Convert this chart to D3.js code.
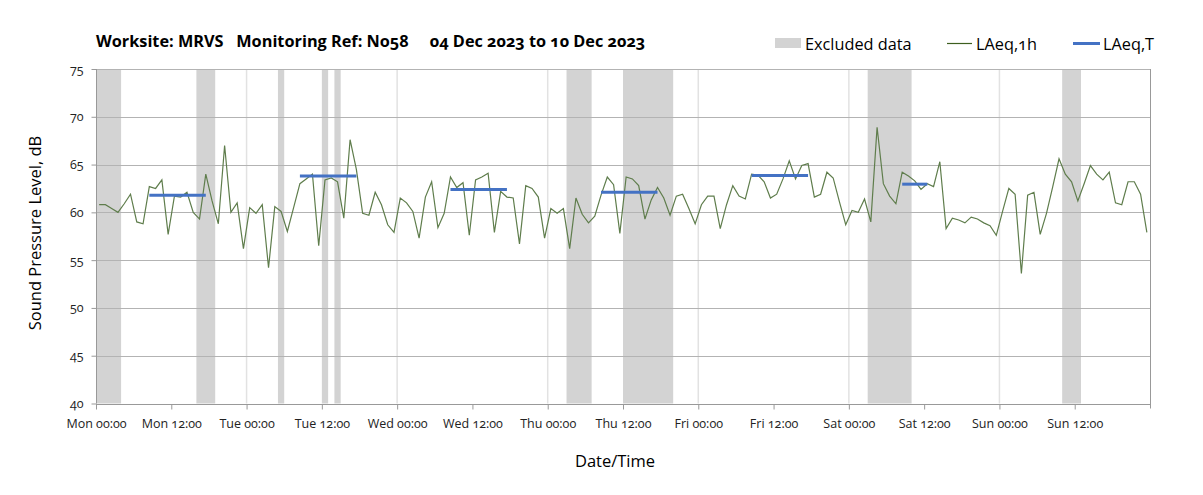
<!DOCTYPE html>
<html>

<head>
  <script src="https://d3js.org/d3.v7.min.js"></script>
  <style>
    body { margin: 0; background: #fff; }
    text { font-family: "Open Sans", Lato, sans-serif; font-variant-numeric: oldstyle-nums; fill: #000; }
  </style>
</head>

<body>
  <svg id="noise" height="495" width="1203"></svg>
  <script>
    // hourly LAeq,1h values, one per hour starting Mon 00:00
    const laeq1h = [
      60.8, 60.8, 60.4, 60.0, 60.9, 61.9, 59.0, 58.8, 62.7, 62.5, 63.4, 57.7,
      61.7, 61.6, 62.1, 60.0, 59.3, 64.0, 61.2, 58.8, 67.0, 60.0, 61.0, 56.2,
      60.5, 59.9, 60.8, 54.2, 60.6, 60.1, 58.0, 60.5, 63.0, 63.5, 64.0, 56.5,
      63.4, 63.6, 63.2, 59.4, 67.6, 64.5, 59.9, 59.7, 62.1, 60.8, 58.7, 57.9,
      61.5, 61.0, 60.1, 57.3, 61.6, 63.2, 58.4, 59.9, 63.7, 62.6, 63.1, 57.6,
      63.4, 63.7, 64.1, 57.9, 62.2, 61.6, 61.5, 56.7, 62.8, 62.5, 61.6, 57.3,
      60.4, 59.9, 60.4, 56.2, 61.5, 59.8, 58.9, 59.6, 61.8, 63.7, 62.9, 57.8,
      63.7, 63.5, 62.8, 59.3, 61.3, 62.6, 61.5, 59.7, 61.7, 61.9, 60.4, 58.8,
      60.8, 61.7, 61.7, 58.3, 60.8, 62.8, 61.7, 61.4, 64.0, 63.9, 63.2, 61.5,
      61.9, 63.5, 65.4, 63.5, 64.9, 65.1, 61.6, 61.9, 64.2, 63.6, 61.1, 58.7,
      60.2, 60.0, 61.4, 59.0, 68.9, 63.0, 61.7, 60.9, 64.2, 63.8, 63.3, 62.4,
      63.0, 62.7, 65.3, 58.3, 59.4, 59.2, 58.9, 59.5, 59.3, 58.9, 58.6, 57.6,
      60.1, 62.5, 61.9, 53.6, 61.8, 62.1, 57.7, 59.9, 62.7, 65.6, 64.0, 63.2,
      61.2, 63.0, 64.9, 64.0, 63.4, 64.2, 61.0, 60.8, 63.2, 63.2, 61.9, 57.9
    ];
    // excluded periods, [start hour, end hour]
    const excluded = [[0, 4], [16, 19], [29, 30], [36, 37], [38, 39], [75, 79], [84, 92], [123, 130], [154, 157]];
    // LAeq,T over working periods: first hour, last hour, level
    const laeqT = [[8, 17, 61.8], [32, 41, 63.8], [56, 65, 62.4], [80, 89, 62.1], [104, 113, 63.85], [128, 132, 62.95]];
    const days = ["Mon", "Tue", "Wed", "Thu", "Fri", "Sat", "Sun"];
    const yTicks = [40, 45, 50, 55, 60, 65, 70, 75];

    let svg = d3.select('svg#noise');
    const margins = { top: 69, left: 96, right: 53, bottom: 91.5 };
    const width = +svg.attr('width');
    const height = +svg.attr('height');
    const xScale = d3.scaleLinear().domain([0, 168]).range([margins.left, width - margins.right]);
    const yScale = d3.scaleLinear().domain([40, 75]).range([height - margins.bottom, margins.top]);

    // excluded bands
    svg.append('g').selectAll('rect').data(excluded)
      .join('rect')
      .attr('x', d => xScale(d[0]))
      .attr('width', d => xScale(d[1]) - xScale(d[0]))
      .attr('y', yScale(75))
      .attr('height', yScale(40) - yScale(75))
      .attr('fill', '#d3d3d3');

    // vertical gridlines at midnight
    svg.append('g').selectAll('line').data(d3.range(24, 168, 24))
      .join('line')
      .attr('x1', d => xScale(d)).attr('x2', d => xScale(d))
      .attr('y1', yScale(75)).attr('y2', yScale(40))
      .attr('stroke', '#e2e2e2').attr('stroke-width', 1.5);

    // horizontal gridlines
    svg.append('g').selectAll('line').data(yTicks.slice(1))
      .join('line')
      .attr('x1', xScale(0)).attr('x2', xScale(168))
      .attr('y1', d => Math.round(yScale(d)) + 0.5).attr('y2', d => Math.round(yScale(d)) + 0.5)
      .attr('stroke', '#b3b3b3');

    // right border
    svg.append('line')
      .attr('x1', xScale(168) + 0.5).attr('x2', xScale(168) + 0.5)
      .attr('y1', yScale(75)).attr('y2', yScale(40) + 5)
      .attr('stroke', '#999');

    // axes
    const xAxis = d3.axisBottom(xScale)
      .tickValues(d3.range(0, 168, 12))
      .tickSize(5)
      .tickFormat(d => days[Math.floor(d / 24)] + (d % 24 == 0 ? ' 00:00' : ' 12:00'));
    let gx = svg.append('g')
      .attr('transform', `translate(0,${Math.round(yScale(40)) + 0.5})`)
      .call(xAxis);
    gx.selectAll('text').attr('dy', '1.2em').style('font-size', '12.5px').style('fill', '#222');

    const yAxis = d3.axisLeft(yScale).tickValues(yTicks).tickSize(5);
    let gy = svg.append('g')
      .attr('transform', `translate(${margins.left + 0.5},0)`)
      .call(yAxis);
    gy.selectAll('text').attr('x', -13).style('font-size', '12.5px').style('fill', '#222');
    svg.selectAll('.domain, .tick line').attr('stroke', '#999');
    gx.select('.domain').attr('d', `M${xScale(0)},0H${xScale(168)}`);
    gy.select('.domain').attr('d', `M0,${yScale(75)}V${yScale(40)}`);

    // LAeq,1h line
    const line = d3.line()
      .x((d, i) => xScale(i + 0.5))
      .y(d => yScale(d));
    svg.append('path')
      .datum(laeq1h)
      .attr('d', line)
      .attr('fill', 'none')
      .attr('stroke', '#5f7d4c')
      .attr('stroke-width', 1.2);

    // LAeq,T segments
    svg.append('g').selectAll('line').data(laeqT)
      .join('line')
      .attr('x1', d => xScale(d[0] + 0.5)).attr('x2', d => xScale(d[1] + 0.5))
      .attr('y1', d => yScale(d[2])).attr('y2', d => yScale(d[2]))
      .attr('stroke', '#4472c4')
      .attr('stroke-width', 3);

    // title
    svg.append('text')
      .attr('x', 96).attr('y', 47)
      .style('font-size', '16.3px').style('font-weight', 'bold')
      .attr('xml:space', 'preserve')
      .text('Worksite: MRVS   Monitoring Ref: No58     04 Dec 2023 to 10 Dec 2023');

    // legend
    let legend = svg.append('g');
    legend.append('rect').attr('x', 775).attr('y', 38).attr('width', 26).attr('height', 10).attr('fill', '#d3d3d3');
    legend.append('text').attr('x', 805).attr('y', 50).style('font-size', '16.3px').text('Excluded data');
    legend.append('line').attr('x1', 947).attr('x2', 972).attr('y1', 43.5).attr('y2', 43.5)
      .attr('stroke', '#3d5e1f').attr('stroke-width', 1.2);
    legend.append('text').attr('x', 976).attr('y', 50).style('font-size', '16.3px').text('LAeq,1h');
    legend.append('line').attr('x1', 1073).attr('x2', 1100).attr('y1', 43.5).attr('y2', 43.5)
      .attr('stroke', '#4472c4').attr('stroke-width', 3);
    legend.append('text').attr('x', 1103).attr('y', 50).style('font-size', '16.3px').text('LAeq,T');

    // axis labels
    svg.append('text')
      .attr('transform', 'rotate(-90)')
      .attr('x', -233).attr('y', 41)
      .style('text-anchor', 'middle').style('font-size', '16.5px')
      .text('Sound Pressure Level, dB');
    svg.append('text')
      .attr('x', 615).attr('y', 467)
      .style('text-anchor', 'middle').style('font-size', '16.5px')
      .text('Date/Time');
  </script>
</body>

</html>
